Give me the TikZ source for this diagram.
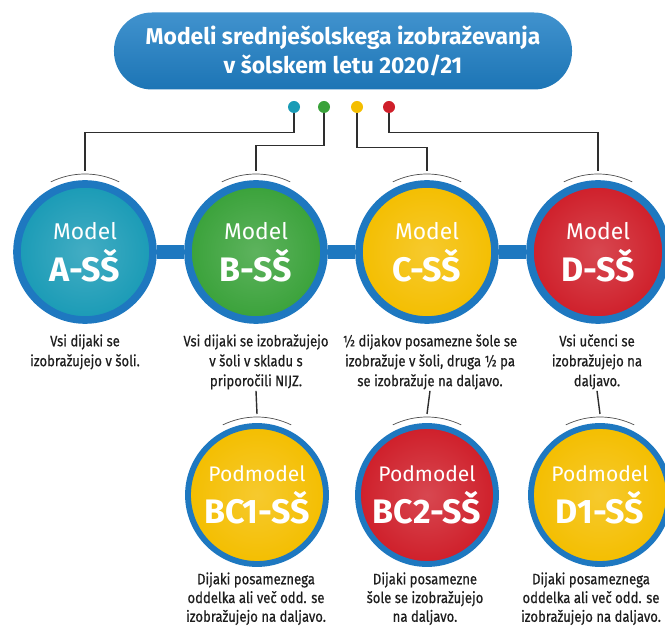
\documentclass[tikz,border=0pt]{standalone}
\usepackage{fontspec}
\setmainfont{Fira Sans}
\newfontfamily\descfont{Fira Sans}[FakeStretch=0.86,FakeBold=0.5]
\usetikzlibrary{positioning}

\definecolor{ringblue}{HTML}{1E78C0}
\definecolor{titleblue}{HTML}{1F7FC5}
\definecolor{mteal}{HTML}{1A9BB6}
\definecolor{mgreen}{HTML}{3AA23A}
\definecolor{myellow}{HTML}{F4BE00}
\definecolor{mred}{HTML}{CF1F2A}
\definecolor{wiregray}{HTML}{2E2E2E}
\definecolor{txtgray}{HTML}{1E1E1E}

\newcommand{\circtext}[3]{{\fontsize{#1}{24}\selectfont #2}\\[7pt]{\fontsize{29}{30}\selectfont\bfseries #3}}

\begin{document}
\begin{tikzpicture}[
                x=0.03cm, y=-0.03cm,
                model/.style = {circle, draw=ringblue, line width=6.5pt, minimum size=4.08cm,
                                inner sep=0pt, align=center, text=white,
                                inner color=#1!82!white, outer color=#1},
                submodel/.style = {model=#1, line width=5pt, minimum size=4.14cm},
                dot/.style = {circle, fill=#1, inner sep=0pt, minimum size=0.36cm},
                wire/.style = {draw=wiregray, line width=1.2pt},
                bridge/.style = {draw=ringblue, line width=12pt},
                caparc/.style = {draw=black!70, line width=0.6pt},
                desc/.style = {anchor=north, align=center, text=txtgray, inner sep=1pt,
                               font=\descfont\fontsize{13}{17}\selectfont},
            ]
            \useasboundingbox (0,0) rectangle (665,628);
            \clip (0,0) rectangle (665,628);

            % title
            \node (title) [rectangle, rounded corners=1.14cm, minimum width=13.74cm, minimum height=2.31cm,
                           top color=titleblue!85!white, bottom color=titleblue!92!black, text=white, align=center,
                           font=\bfseries\fontsize{19.5}{25.5}\selectfont] at (343,51)
                           {Modeli srednješolskega izobraževanja\\v šolskem letu 2020/21};

            \node (dotA) [dot=mteal] at (294,107){};
            \node (dotB) [dot=mgreen] at (324,107){};
            \node (dotC) [dot=myellow] at (357,107){};
            \node (dotD) [dot=mred] at (389,107){};

            % models
            \node (a) [model=mteal] at (85,252) {\circtext{19.5}{Model}{A-SŠ}};
            \node (b) [model=mgreen] at (256,252) {\circtext{19.5}{Model}{B-SŠ}};
            \node (c) [model=myellow] at (427,252) {\circtext{19.5}{Model}{C-SŠ}};
            \node (d) [model=mred] at (598,252) {\circtext{19.5}{Model}{D-SŠ}};

            \path[bridge] (a) -- (b);
            \path[bridge] (b) -- (c);
            \path[bridge] (c) -- (d);

            \coordinate (tA) at (85,171);
            \coordinate (tB) at (256,171);
            \coordinate (tC) at (427,171);
            \coordinate (tD) at (598,171);

            \path[wire] (dotA.south) -- ++(0,19) -| (tA);
            \path[wire] (dotB.south) -- ++(0,32) -| (tB);
            \path[wire] (dotC.south) -- ++(0,34) -| (tC);
            \path[wire] (dotD.south) -- ++(0,19) -| (tD);

            \foreach \n in {a,b,c,d}
                \path[caparc] ([shift={(244:78)}]\n.center) arc[start angle=244, end angle=296, radius=78];

            \node (descA) [desc] at (85,333) {Vsi dijaki se\\izobražujejo v šoli.};
            \node (descB) [desc] at (256,333) {Vsi dijaki se izobražujejo\\v šoli v skladu s\\priporočili NIJZ.};
            \node (descC) [desc] at (430,333) {½ dijakov posamezne šole se\\izobražuje v šoli, druga ½ pa\\se izobražuje na daljavo.};
            \node (descD) [desc] at (597,333) {Vsi učenci se\\izobražujejo na\\daljavo.};

            % submodels
            \node (bc1) [submodel=myellow] at (257,495) {\circtext{18}{Podmodel}{BC1-SŠ}};
            \node (bc2) [submodel=mred] at (427,495) {\circtext{18}{Podmodel}{BC2-SŠ}};
            \node (d1) [submodel=myellow] at (600,495) {\circtext{18}{Podmodel}{D1-SŠ}};

            \coordinate (tBC1) at (257,414);
            \coordinate (tBC2) at (427,414);
            \coordinate (tD1) at (600,414);

            \path[wire] (descB.south) -- (tBC1);
            \path[wire] (descC.south) -- (tBC2);
            \path[wire] (descD.south) -- (tD1);

            \foreach \n in {bc1,bc2,d1}
                \path[caparc] ([shift={(244:78)}]\n.center) arc[start angle=244, end angle=296, radius=78];

            \node (descBC1) [desc, font=\descfont\fontsize{13}{16}\selectfont] at (256,571) {Dijaki posameznega\\oddelka ali več odd. se\\izobražujejo na daljavo.};
            \node (descBC2) [desc, font=\descfont\fontsize{13}{16}\selectfont] at (425,571) {Dijaki posamezne\\šole se izobražujejo\\na daljavo.};
            \node (descD1) [desc, font=\descfont\fontsize{13}{16}\selectfont] at (591,571) {Dijaki posameznega\\oddelka ali več odd. se\\izobražujejo na daljavo.};
        \end{tikzpicture}
\end{document}
